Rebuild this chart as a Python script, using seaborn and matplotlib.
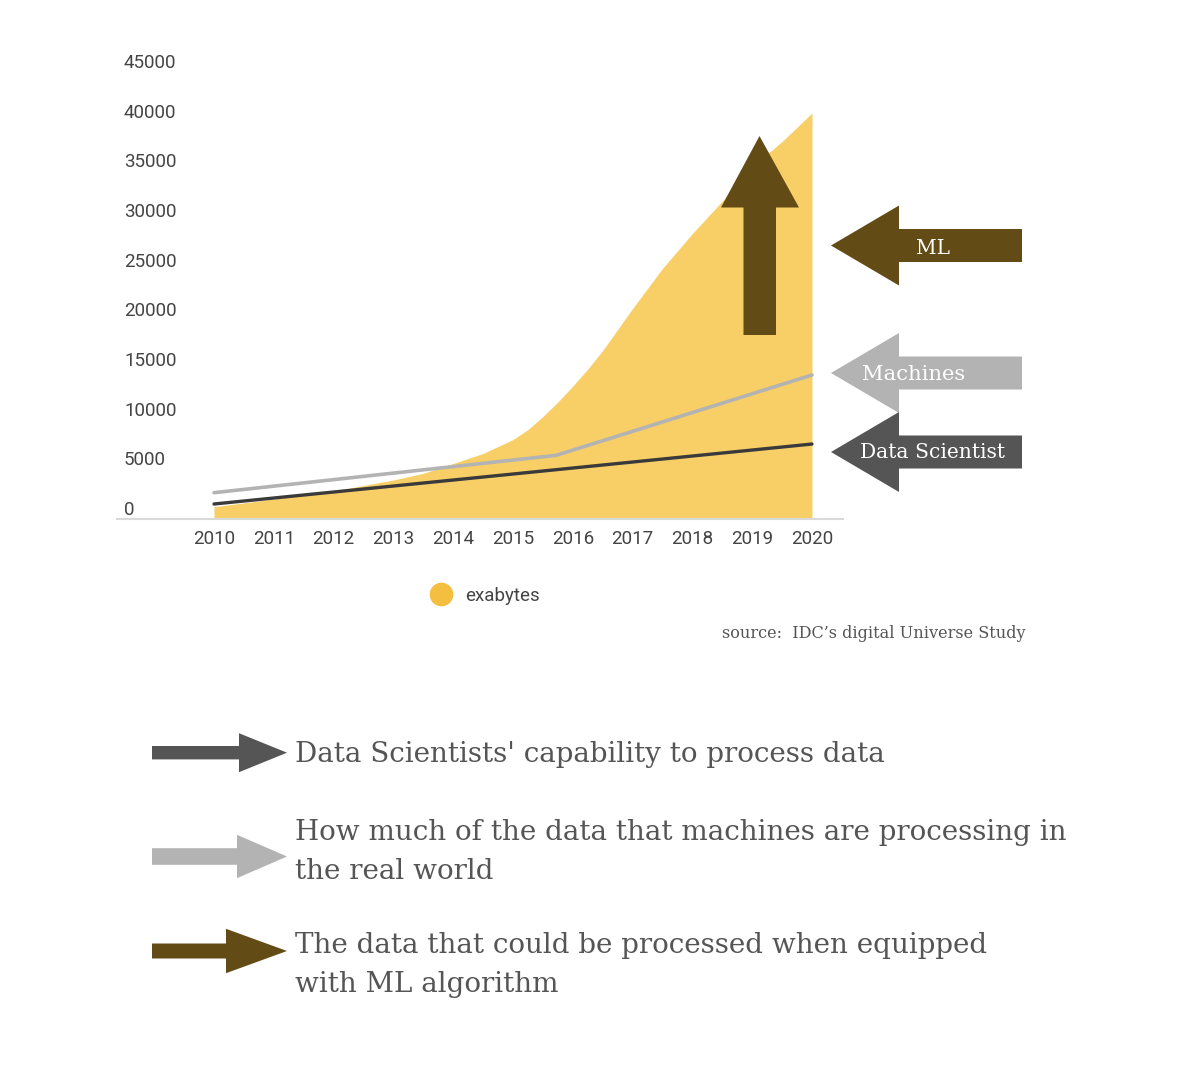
import matplotlib
matplotlib.use("Agg")
import matplotlib.pyplot as plt
import matplotlib.transforms as mtransforms
from matplotlib.patches import Polygon
from matplotlib.lines import Line2D
import seaborn as sns
import pandas as pd

# ---------------- data ----------------
area_years = [2010, 2011, 2012, 2013, 2013.5, 2014, 2014.5, 2015, 2015.25, 2015.5,
              2015.75, 2016, 2016.25, 2016.5, 2017, 2017.5, 2018, 2018.5, 2019,
              2019.5, 2020]
exabytes = [1240, 2010, 2820, 3930, 4600, 5590, 6600, 8000, 9010, 10320,
            11780, 13390, 15100, 16970, 21200, 25230, 28750, 32020, 35450,
            38020, 40890]

machines_years = [2010, 2015.72, 2020]
machines_vals = [2650, 6410, 14500]

scientist_years = [2010, 2020]
scientist_vals = [1510, 7550]

x_ticks = [2010, 2011, 2012, 2013, 2014, 2015, 2016, 2017, 2018, 2019, 2020]
y_ticks = [0, 5000, 10000, 15000, 20000, 25000, 30000, 35000, 40000, 45000]

legend_label = "exabytes"
source_text = "source:  IDC\u2019s digital Universe Study"
arrow_labels = ["ML", "Machines", "Data Scientist"]
notes = [
    ["Data Scientists' capability to process data"],
    ["How much of the data that machines are processing in", "the real world"],
    ["The data that could be processed when equipped", "with ML algorithm"],
]

# ---------------- style ----------------
BROWN = "#634B16"
DARK = "#555555"
LIGHT = "#B3B3B3"
AREA = "#F7CF66"
DOT = "#F4BE40"
TEXT = "#555555"
SERIF = ["DejaVu Serif"]

W, H = 1194, 1080
sns.set_theme(style="white")
plt.rcParams["font.family"] = ["Roboto", "DejaVu Sans"]

fig = plt.figure(figsize=(W / 100, H / 100), dpi=100)
fig.patch.set_facecolor("white")

def fx(x):
    return x / W

def fy(y):
    return 1 - y / H

# axes placement (pixels): left 117, right 843, top 57, bottom 519
ax = fig.add_axes([fx(117), fy(519), (843 - 117) / W, (519 - 57) / H])
ax.set_facecolor("white")

df_area = pd.DataFrame({"year": area_years, "exabytes": exabytes})
df_mach = pd.DataFrame({"year": machines_years, "value": machines_vals})
df_sci = pd.DataFrame({"year": scientist_years, "value": scientist_vals})

ax.fill_between(df_area["year"], 0, df_area["exabytes"], color=AREA, lw=0, zorder=1)
sns.lineplot(data=df_mach, x="year", y="value", ax=ax, color=LIGHT, lw=2.6, zorder=3)
sns.lineplot(data=df_sci, x="year", y="value", ax=ax, color="#3a3a3a", lw=2.4, zorder=3)

px_per_unit = 0.00993
ax.set_xlim(2010 - (214 - 117) / 59.8, 2010 + (843 - 214) / 59.8)
ax.set_ylim(0, (519 - 57) / px_per_unit)

ax.set_xlabel("")
ax.set_ylabel("")
for s in ["top", "right", "left"]:
    ax.spines[s].set_visible(False)
ax.spines["bottom"].set_color("#D9D9D9")
ax.spines["bottom"].set_linewidth(1.5)

ax.set_xticks(x_ticks)
ax.set_xticklabels([str(t) for t in x_ticks])
ax.set_yticks(y_ticks)
ax.set_yticklabels([str(t) for t in y_ticks])
ax.tick_params(axis="x", length=0, pad=8, labelsize=13.5, labelcolor="#444444")
ax.tick_params(axis="y", length=0, pad=-5, labelsize=13.5, labelcolor="#444444")
offset = mtransforms.ScaledTranslation(0, 0.11, fig.dpi_scale_trans)
for lab in ax.get_yticklabels():
    lab.set_horizontalalignment("left")
    lab.set_transform(lab.get_transform() + offset)
ax.grid(False)

# legend
handle = Line2D([], [], marker="o", linestyle="none", markersize=16,
                markerfacecolor=DOT, markeredgecolor=DOT)
leg = fig.legend([handle], [legend_label], loc="center",
                 bbox_to_anchor=(fx(485), fy(596)), frameon=False,
                 prop={"family": ["Roboto", "DejaVu Sans"], "size": 13.5},
                 handletextpad=0.7, handlelength=1.2)
for t in leg.get_texts():
    t.set_color("#444444")

fig.text(fx(1026), fy(638), source_text, ha="right", va="baseline",
         fontsize=11.6, color=TEXT, family=SERIF)

# ---------------- annotation arrows ----------------
def left_arrow(yc, color):
    tip, base, end = 831, 899, 1022
    hh, sh = 40, 16.5
    pts = [(tip, yc), (base, yc - hh), (base, yc - sh), (end, yc - sh),
           (end, yc + sh), (base, yc + sh), (base, yc + hh)]
    fig.patches.append(Polygon([(fx(x), fy(y)) for x, y in pts], closed=True,
                               transform=fig.transFigure, facecolor=color,
                               edgecolor="none", zorder=5))

def right_arrow(yc, shaft_end, sh, hh, color):
    start, tip = 152, 287
    pts = [(start, yc - sh), (shaft_end, yc - sh), (shaft_end, yc - hh), (tip, yc),
           (shaft_end, yc + hh), (shaft_end, yc + sh), (start, yc + sh)]
    fig.patches.append(Polygon([(fx(x), fy(y)) for x, y in pts], closed=True,
                               transform=fig.transFigure, facecolor=color,
                               edgecolor="none", zorder=5))

# up arrow
up_pts = [(743.5, 335), (743.5, 207.5), (721, 207.5), (759.5, 136), (799, 207.5),
          (776, 207.5), (776, 335)]
fig.patches.append(Polygon([(fx(x), fy(y)) for x, y in up_pts], closed=True,
                           transform=fig.transFigure, facecolor=BROWN,
                           edgecolor="none", zorder=5))

left_arrow(245.5, BROWN)
left_arrow(373, LIGHT)
left_arrow(452, DARK)

fig.text(fx(933), fy(246), arrow_labels[0], ha="center", va="center_baseline",
         fontsize=14.5, color="white", family=SERIF, zorder=6)
fig.text(fx(914), fy(373), arrow_labels[1], ha="center", va="center_baseline",
         fontsize=15.2, color="white", family=SERIF, zorder=6)
fig.text(fx(933), fy(451), arrow_labels[2], ha="center", va="center_baseline",
         fontsize=14.6, color="white", family=SERIF, zorder=6)

right_arrow(752.7, 239, 6.7, 19.5, DARK)
right_arrow(856.5, 237, 8.3, 21.7, LIGHT)
right_arrow(951, 226, 7.5, 22.2, BROWN)

baselines = [[762], [840, 879], [953, 992]]
for lines, bls in zip(notes, baselines):
    for line, bl in zip(lines, bls):
        fig.text(fx(295), fy(bl), line, ha="left", va="baseline",
                 fontsize=20, color=TEXT, family=SERIF)

fig.savefig("out.png", dpi=100, facecolor="white")
